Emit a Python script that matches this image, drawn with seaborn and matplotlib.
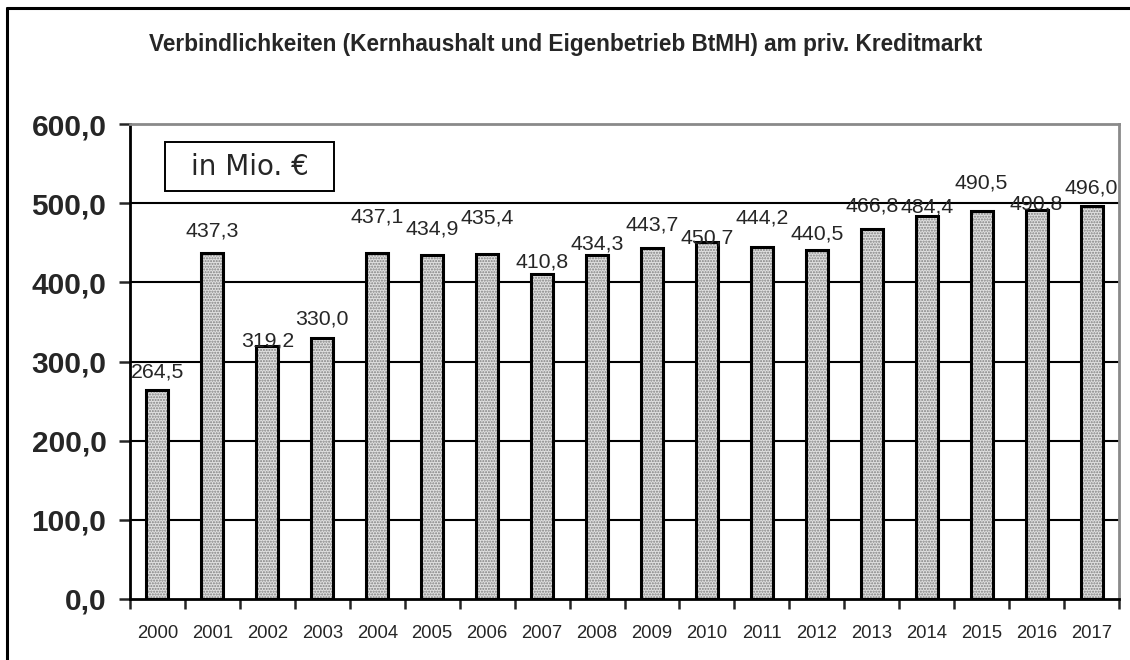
import matplotlib
matplotlib.use("Agg")
import matplotlib.pyplot as plt
from matplotlib.lines import Line2D
from matplotlib.patches import Rectangle
from matplotlib.ticker import FixedLocator, FuncFormatter
import seaborn as sns

# === DATA ===
years = ["2000", "2001", "2002", "2003", "2004", "2005", "2006", "2007", "2008",
         "2009", "2010", "2011", "2012", "2013", "2014", "2015", "2016", "2017"]
debt = [264.5, 437.3, 319.2, 330.0, 437.1, 434.9, 435.4, 410.8, 434.3,
        443.7, 450.7, 444.2, 440.5, 466.8, 484.4, 490.5, 490.8, 496.0]

# label lift above bar top in pixels (labels were nudged by hand in the original)
label_lift = [18, 22, 5, 19, 36, 26, 36, 12, 11, 23, 4, 29, 16, 23, 9, 28, 6, 18]

title = "Verbindlichkeiten (Kernhaushalt und Eigenbetrieb BtMH) am priv. Kreditmarkt"

sns.set_style("white")
plt.rcParams["font.family"] = ["Liberation Sans", "DejaVu Sans"]
plt.rcParams["hatch.linewidth"] = 1.0

W, H = 1130, 660
fig = plt.figure(figsize=(W / 100, H / 100), dpi=100)
ax = fig.add_axes([130 / W, 61 / H, 989 / W, 475 / H])

# dotted fill, then black outline on top
sns.barplot(x=years, y=debt, ax=ax, width=0.4, color="#e0e0e0",
            edgecolor="#808080", linewidth=0, hatch="......", zorder=3)
sns.barplot(x=years, y=debt, ax=ax, width=0.4, fill=False,
            edgecolor="black", linewidth=2.2, zorder=4)

ax.set_xlim(-0.5, len(years) - 0.5)
ax.set_ylim(0, 600)
ax.set_xlabel("")
ax.set_ylabel("")

# gridlines
for v in range(100, 600, 100):
    ax.axhline(v, color="black", linewidth=1.5, zorder=1)

# y axis
ax.yaxis.set_major_locator(FixedLocator(range(0, 601, 100)))
ax.yaxis.set_major_formatter(FuncFormatter(lambda v, p: f"{v:.1f}".replace(".", ",")))
ax.tick_params(axis="y", which="major", direction="out", length=8, width=1.8,
               left=True, labelsize=21.5, pad=9)
for t in ax.get_yticklabels():
    t.set_fontweight("bold")

# x axis: tick marks between categories, labels under bars
ax.xaxis.set_major_locator(FixedLocator([i - 0.5 for i in range(len(years) + 1)]))
ax.xaxis.set_major_formatter(FuncFormatter(lambda v, p: ""))
ax.xaxis.set_minor_locator(FixedLocator(range(len(years))))
ax.xaxis.set_minor_formatter(FuncFormatter(lambda v, p: years[int(round(v))]))
ax.tick_params(axis="x", which="major", direction="out", length=7, width=1.8, bottom=True)
ax.tick_params(axis="x", which="minor", length=0, labelsize=13.3, pad=19)

for side in ["left", "bottom"]:
    ax.spines[side].set_color("black")
    ax.spines[side].set_linewidth(2)
for side in ["top", "right"]:
    ax.spines[side].set_color("#8a8a8a")
    ax.spines[side].set_linewidth(2)

# value labels
for i, v in enumerate(debt):
    ax.annotate(f"{v:.1f}".replace(".", ","), (i, v), xytext=(0, label_lift[i]),
                textcoords="offset pixels", ha="center", va="center",
                fontsize=15.3, zorder=6)

# unit box
fig.add_artist(Rectangle((165 / W, 1 - 191 / H), 169 / W, 49 / H,
                         transform=fig.transFigure, facecolor="white",
                         edgecolor="black", linewidth=1.4, zorder=7))
fig.text(249.5 / W, 1 - 167 / H, "in Mio. €", ha="center", va="center",
         fontsize=20, family=["DejaVu Sans"], zorder=8)

fig.text(566 / W, 1 - 45 / H, title, ha="center", va="center",
         fontsize=16.3, fontweight="bold")

# outer frame (only top and left visible in the original crop)
fig.add_artist(Line2D([7 / W, 1], [1 - 8 / H, 1 - 8 / H],
                      transform=fig.transFigure, color="black", linewidth=2.2))
fig.add_artist(Line2D([7 / W, 7 / W], [0, 1 - 8 / H],
                      transform=fig.transFigure, color="black", linewidth=2.2))

fig.savefig("out.png", dpi=100)
